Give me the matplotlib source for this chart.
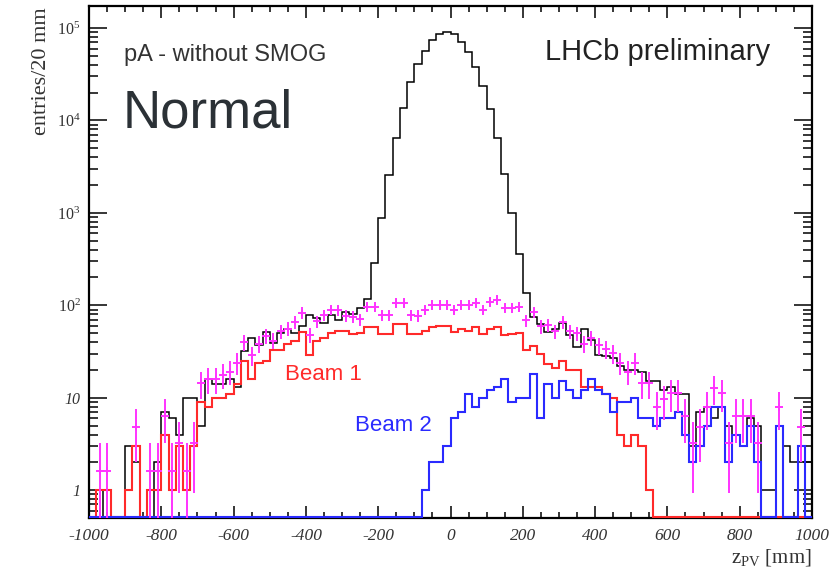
import numpy as np
import matplotlib
matplotlib.use("Agg")
import matplotlib.pyplot as plt
from matplotlib.ticker import LogLocator, MultipleLocator, NullFormatter

plt.rcParams.update({
    "mathtext.fontset": "custom",
    "mathtext.rm": "Liberation Serif",
    "mathtext.it": "Liberation Serif:italic",
    "mathtext.bf": "Liberation Serif:bold",
    "mathtext.default": "it",
})

# ---------------- data (entries per 20 mm bin, z from -1000 to 1000 mm) ----------------
Z_MIN, Z_MAX = -1000, 1000

total = [0, 1, 0, 0, 0, 3, 2, 0, 0, 2,
         7, 6, 4, 10, 10, 5, 16, 14, 14, 16,
         13, 32, 44, 37, 52, 39, 50, 55, 50, 60,
         78, 73, 64, 78, 69, 84, 80, 94, 116, 286,
         879, 2570, 6450, 13700, 26200, 40800, 56900, 74000, 86000, 90000,
         86000, 71000, 54600, 38000, 23600, 13200, 6450, 2610, 1000, 355,
         135, 75, 63, 51, 55, 65, 48, 35, 56, 42,
         29, 28, 27, 22, 20, 20, 19, 15, 15, 12,
         13, 11, 11, 3, 7, 8, 6, 8, 5, 4,
         3, 6, 5, 1, 1, 5, 3, 2, 2, 2]

beam1 = [0, 1, 1, 0, 0, 1, 3, 0, 1, 1,
         4, 1, 3, 1, 3, 9, 8, 10, 10, 11,
         14, 25, 16, 24, 25, 33, 33, 38, 41, 52,
         29, 41, 44, 50, 53, 53, 49, 50, 58, 58,
         49, 49, 62, 62, 49, 49, 53, 58, 60, 60,
         52, 55, 53, 58, 49, 55, 58, 48, 49, 50,
         33, 36, 30, 23, 21, 25, 20, 20, 13, 13,
         13, 11, 10, 4, 3, 4, 3, 1, 0, 0,
         0, 0, 0, 0, 0, 0, 0, 0, 0, 0,
         0, 0, 0, 0, 0, 0, 0, 0, 0, 0]

beam2 = [0, 0, 0, 0, 0, 0, 0, 0, 0, 0,
         0, 0, 0, 0, 0, 0, 0, 0, 0, 0,
         0, 0, 0, 0, 0, 0, 0, 0, 0, 0,
         0, 0, 0, 0, 0, 0, 0, 0, 0, 0,
         0, 0, 0, 0, 0, 0, 1, 2, 2, 3,
         6, 7, 11, 8, 10, 12, 13, 16, 9, 10,
         10, 18, 6, 14, 10, 15, 12, 10, 12, 16,
         12, 11, 7, 9, 9, 10, 6, 6, 5, 6,
         6, 7, 4, 2, 3, 5, 8, 8, 2, 4,
         3, 5, 2, 0, 0, 5, 0, 0, 3, 0]

# raw counts of the magenta sample, plotted scaled by SMOG_SCALE
smog_counts = [0, 1, 1, 0, 0, 0, 3, 0, 1, 1,
               4, 1, 2, 1, 2, 9, 10, 10, 11, 12,
               15, 25, 18, 24, 29, 26, 33, 35, 41, 52,
               30, 42, 49, 56, 55, 48, 47, 44, 60, 60,
               49, 49, 66, 66, 49, 48, 56, 63, 63, 63,
               56, 63, 63, 66, 56, 68, 72, 59, 59, 60,
               43, 53, 37, 38, 33, 41, 33, 31, 24, 28,
               23, 21, 19, 15, 12, 15, 9, 9, 5, 6,
               7, 7, 4, 2, 3, 5, 8, 7, 2, 4,
               4, 4, 2, 0, 0, 5, 0, 0, 3, 0]
SMOG_SCALE = 1.6

XTICKS = [-1000, -800, -600, -400, -200, 0, 200, 400, 600, 800, 1000]
XTICK_LABELS = ["-1000", "-800", "-600", "-400", "-200", "0", "200", "400", "600", "800", "1000"]
YTICKS = [1, 10, 100, 1000, 10000, 100000]
YTICK_LABELS = ["1", "10", r"$10^{2}$", r"$10^{3}$", r"$10^{4}$", r"$10^{5}$"]
YLIM = (0.5, 1.73e5)

# ---------------- figure ----------------
W, H = 834, 572
fig = plt.figure(figsize=(W / 100, H / 100), dpi=100)
ax = fig.add_axes([89 / W, 1 - 518 / H, (812 - 89) / W, (518 - 6) / H])


def P(x, y):
    return x / W, 1 - y / H


edges = np.linspace(Z_MIN, Z_MAX, len(total) + 1)
centers = 0.5 * (edges[:-1] + edges[1:])


def floor(v):
    # empty bins are drawn along the bottom of the frame, as ROOT does on a log axis
    v = np.asarray(v, float)
    return np.where(v > 0, v, YLIM[0] * 1.03)


ax.stairs(floor(total), edges, baseline=None, color="black", lw=1.1, zorder=3)
ax.stairs(floor(beam1), edges, baseline=None, color="#ff2a2a", lw=1.5, zorder=4)
ax.stairs(floor(beam2), edges, baseline=None, color="#2a2aff", lw=1.5, zorder=5)

n = np.asarray(smog_counts, float)
m = n > 0
vals = n[m] * SMOG_SCALE
err = SMOG_SCALE * np.sqrt(n[m])
low = vals - np.maximum(vals - err, 1e-3)
ax.errorbar(centers[m], vals, yerr=[low, err], fmt="+", color="#ff33ff",
            ms=6, mew=1.4, elinewidth=1.4, capsize=0, zorder=6)

ax.set_yscale("log")
ax.set_xlim(Z_MIN, Z_MAX)
ax.set_ylim(*YLIM)

ax.set_xticks(XTICKS)
ax.set_xticklabels(XTICK_LABELS, fontfamily="Liberation Serif", fontstyle="italic",
                   fontsize=12.5, color="#333333")
ax.xaxis.set_minor_locator(MultipleLocator(50))
ax.set_yticks(YTICKS)
ax.set_yticklabels(YTICK_LABELS, fontfamily="Liberation Serif", fontstyle="italic",
                   fontsize=11.5, color="#333333")
ax.yaxis.set_minor_locator(LogLocator(base=10, subs=np.arange(2, 10)))
ax.yaxis.set_minor_formatter(NullFormatter())

ax.tick_params(which="both", direction="in", top=True, right=True, width=1.1)
ax.tick_params(axis="x", which="major", length=8.5, pad=7)
ax.tick_params(axis="x", which="minor", length=4.3)
ax.tick_params(axis="y", which="major", length=13, pad=6)
ax.tick_params(axis="y", which="minor", length=6.5)
for s in ax.spines.values():
    s.set_linewidth(1.6)
    s.set_zorder(2)

# axis titles
fig.text(*P(41, 7), "entries/20 mm", rotation=90, ha="center", va="top",
         fontfamily="Liberation Serif", fontsize=16, color="#333333")
fig.text(*P(812, 558), r"z$_{\rm PV}$ [mm]", ha="right", va="center",
         fontfamily="Liberation Serif", fontsize=15, color="#333333")

# annotations
fig.text(*P(124, 61), "pA - without SMOG", ha="left", va="baseline",
         fontfamily="Liberation Sans", fontsize=17, color="#333333")
fig.text(*P(545, 60), "LHCb preliminary", ha="left", va="baseline",
         fontfamily="Liberation Sans", fontsize=21, color="#222222")
fig.text(*P(123, 128), "Normal", ha="left", va="baseline",
         fontfamily="Liberation Sans", fontsize=38, color="#2b3136")
fig.text(*P(285, 380), "Beam 1", ha="left", va="baseline",
         fontfamily="Liberation Sans", fontsize=16, color="#ff2a2a")
fig.text(*P(355, 431), "Beam 2", ha="left", va="baseline",
         fontfamily="Liberation Sans", fontsize=16, color="#2a2aff")

fig.savefig("out.png", dpi=100)
